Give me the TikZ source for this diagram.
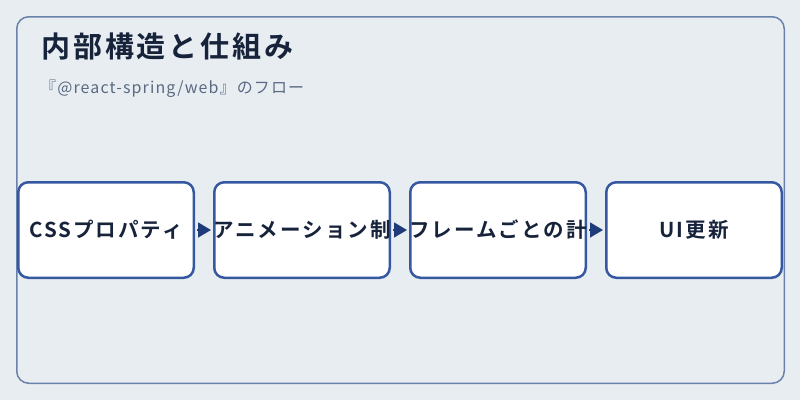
\documentclass[tikz,border=0pt]{standalone}
\usepackage{fontspec}
\setmainfont{Noto Sans CJK JP}[BoldFont={* Bold}]
\usetikzlibrary{positioning,arrows.meta}

\definecolor{pagebg}{HTML}{E8EDF2}
\definecolor{frameline}{HTML}{6A81AA}
\definecolor{boxline}{HTML}{3558A0}
\definecolor{arrowcol}{HTML}{1F3B7A}
\definecolor{titletext}{HTML}{17233B}
\definecolor{subtext}{HTML}{5A6A82}

\newcommand{\flowtext}[1]{\makebox[150pt]{#1}}

\tikzset{
  flowbox/.style={draw=boxline, line width=2.5pt, rounded corners=10pt, fill=white,
    minimum width=175.5pt, minimum height=95.5pt, inner sep=0pt,
    font=\fontsize{20.5}{20.5}\selectfont\bfseries\addfontfeatures{LetterSpace=10}, text=titletext},
  flowarrow/.style={-{Triangle[length=13pt,width=15pt]}, line width=1.5pt, draw=arrowcol, fill=arrowcol,
    shorten <=2pt, shorten >=2pt}
}

\begin{document}
\begin{tikzpicture}[x=1pt,y=-1pt]

\fill[pagebg] (0,0) rectangle (800,400);
\useasboundingbox (0,0) rectangle (800,400);
\draw[frameline, line width=1.5pt, rounded corners=12pt] (16.75,16.75) rectangle (784.25,383.25);

\node[anchor=west, inner sep=0pt, text=titletext, font=\fontsize{29}{29}\selectfont\bfseries\addfontfeatures{LetterSpace=10}] (title) at (41,47) {内部構造と仕組み};
\node[anchor=west, inner sep=0pt, text=subtext, font=\fontsize{16}{16}\selectfont\addfontfeatures{LetterSpace=7}] (subtitle) at (40,89) {『@react-spring/web』のフロー};

\node[flowbox] (css) at (106,230) {\flowtext{CSSプロパティ}};
\node[flowbox, right=18pt of css] (anim) {\flowtext{アニメーション制}};
\node[flowbox, right=18pt of anim] (frame) {\flowtext{フレームごとの計}};
\node[flowbox, right=18pt of frame] (ui) {\flowtext{UI更新}};

\foreach \a/\b in {css/anim, anim/frame, frame/ui}
  \draw[flowarrow] (\a.east) -- (\b.west);

\end{tikzpicture}
\end{document}
